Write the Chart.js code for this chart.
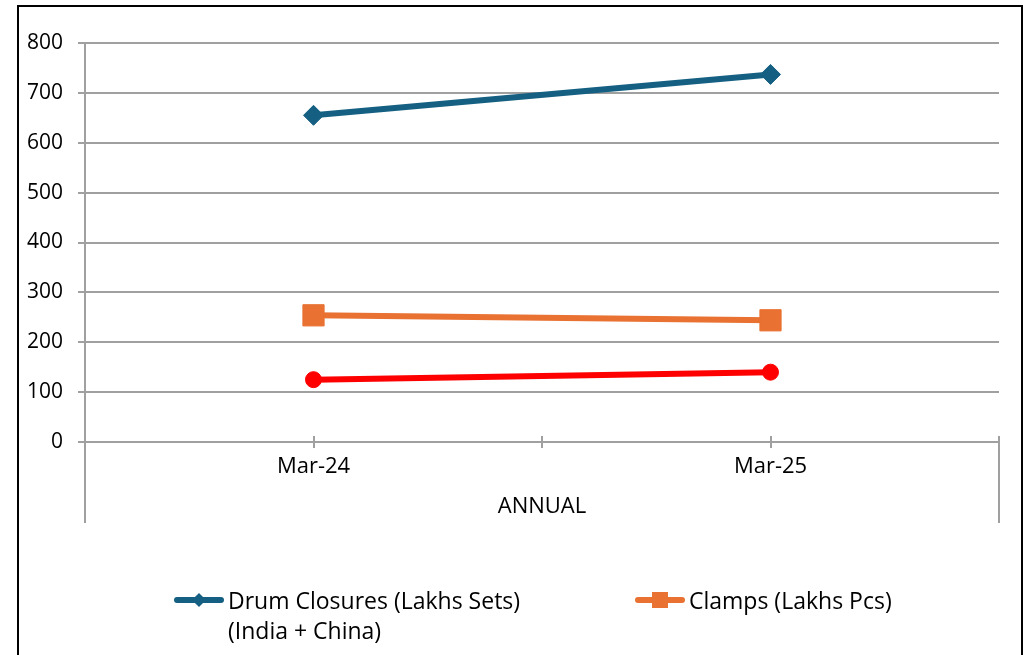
<!DOCTYPE html>
<html lang="en">
<head>
    <meta charset="UTF-8">
    <title>Annual Chart</title>
    <script src="https://cdn.jsdelivr.net/npm/chart.js"></script>
    <style>
        body { margin: 0; background: #fff; font-family: "Open Sans", sans-serif; }
        #wrap { position: relative; width: 1029px; height: 655px; overflow: hidden; }
        #frame {
            position: absolute; left: 17px; top: 5px;
            width: 1002px; height: 700px;
            border: 2px solid #000;
        }
        #chart { position: absolute; left: 0; top: 0; }
        .legend-item { position: absolute; display: flex; align-items: flex-start; color: #000; font-size: 23px; line-height: 30px; }
        .swatch { position: relative; width: 50px; height: 30px; margin-right: 4px; }
        .swatch .ln { position: absolute; left: 0; right: 0; top: 12px; height: 6px; border-radius: 3px; }
        .swatch .mk { position: absolute; left: 50%; top: 50%; }
    </style>
</head>
<body>
<div id="wrap">
    <div id="frame"></div>
    <canvas id="chart" width="1029" height="655"></canvas>
    <div id="legend"></div>
</div>

<script>
    const categories = ['Mar-24', 'Mar-25'];
    const groupLabel = 'ANNUAL';
    const drumClosures = [655, 737];
    const clamps = [254, 244];
    const series3 = [125, 140];

    // draws the category tick marks, the group dividers and the group label
    const multiLevelAxis = {
        id: 'multiLevelAxis',
        afterDraw(chart) {
            const { ctx, chartArea } = chart;
            const x = chart.scales.x;
            const y0 = chartArea.bottom;
            ctx.save();
            ctx.strokeStyle = '#a0a0a0';
            ctx.lineWidth = 2;
            ctx.beginPath();
            const n = categories.length;
            for (let i = 0; i < n; i++) {
                const px = Math.round(x.getPixelForValue(i));
                ctx.moveTo(px, y0 - 6);
                ctx.lineTo(px, y0 + 6);
                if (i < n - 1) {
                    const mid = Math.round((x.getPixelForValue(i) + x.getPixelForValue(i + 1)) / 2);
                    ctx.moveTo(mid, y0 - 6);
                    ctx.lineTo(mid, y0 + 6);
                }
            }
            ctx.moveTo(chartArea.left, y0);
            ctx.lineTo(chartArea.left, y0 + 81);
            ctx.moveTo(chartArea.right, y0 - 6);
            ctx.lineTo(chartArea.right, y0 + 81);
            ctx.stroke();

            ctx.fillStyle = '#000';
            ctx.font = '22px "Open Sans"';
            ctx.textAlign = 'center';
            ctx.textBaseline = 'middle';
            ctx.fillText(groupLabel, (chartArea.left + chartArea.right) / 2, y0 + 65);
            ctx.restore();
        }
    };

    const ctx = document.getElementById('chart').getContext('2d');
    const chart = new Chart(ctx, {
        type: 'line',
        data: {
            labels: categories,
            datasets: [
                {
                    label: ['Drum Closures (Lakhs Sets)', '(India + China)'],
                    data: drumClosures,
                    borderColor: '#156082',
                    backgroundColor: '#156082',
                    borderWidth: 6,
                    pointStyle: 'rectRot',
                    pointRadius: 10,
                    pointHoverRadius: 10,
                    pointBorderWidth: 1,
                    legend: true
                },
                {
                    label: ['Clamps (Lakhs Pcs)'],
                    data: clamps,
                    borderColor: '#E97132',
                    backgroundColor: '#E97132',
                    borderWidth: 6,
                    pointStyle: 'rect',
                    pointRadius: 15,
                    pointHoverRadius: 15,
                    pointBorderWidth: 1,
                    legend: true
                },
                {
                    label: ['Series 3'],
                    data: series3,
                    borderColor: '#FF0000',
                    backgroundColor: '#FF0000',
                    borderWidth: 6,
                    pointStyle: 'circle',
                    pointRadius: 8,
                    pointHoverRadius: 8,
                    pointBorderWidth: 1,
                    legend: false
                }
            ]
        },
        options: {
            responsive: false,
            animation: false,
            layout: { padding: { top: 43, right: 30, left: 0, bottom: 0 } },
            plugins: { legend: { display: false }, tooltip: { enabled: false } },
            scales: {
                y: {
                    min: 0,
                    max: 800,
                    ticks: { stepSize: 100, color: '#000', font: { size: 21, family: 'Open Sans' }, padding: 15 },
                    grid: { color: '#a0a0a0', lineWidth: 2, tickLength: 7 },
                    border: { display: true, color: '#a0a0a0', width: 2 },
                    afterFit(scale) { scale.width = 85; }
                },
                x: {
                    offset: true,
                    grid: { display: false },
                    border: { display: false },
                    ticks: { color: '#000', font: { size: 22, family: 'Open Sans' }, padding: 4 },
                    afterFit(scale) { scale.height = 213; }
                }
            }
        },
        plugins: [multiLevelAxis]
    });

    // html legend, built from the datasets
    const legendPos = [{ left: 174, top: 585 }, { left: 635, top: 585 }];
    const legend = document.getElementById('legend');
    chart.data.datasets.filter(d => d.legend).forEach((d, i) => {
        const item = document.createElement('div');
        item.className = 'legend-item';
        item.style.left = legendPos[i].left + 'px';
        item.style.top = legendPos[i].top + 'px';
        let marker;
        if (d.pointStyle === 'rectRot') {
            marker = 'width:10px;height:10px;transform:translate(-50%,-50%) rotate(45deg);';
        } else {
            marker = 'width:16px;height:16px;transform:translate(-50%,-50%);';
        }
        item.innerHTML =
            '<div class="swatch"><div class="ln" style="background:' + d.borderColor + '"></div>' +
            '<div class="mk" style="background:' + d.borderColor + ';' + marker + '"></div></div>' +
            '<div>' + d.label.join('<br>') + '</div>';
        legend.appendChild(item);
    });
</script>
</body>
</html>
